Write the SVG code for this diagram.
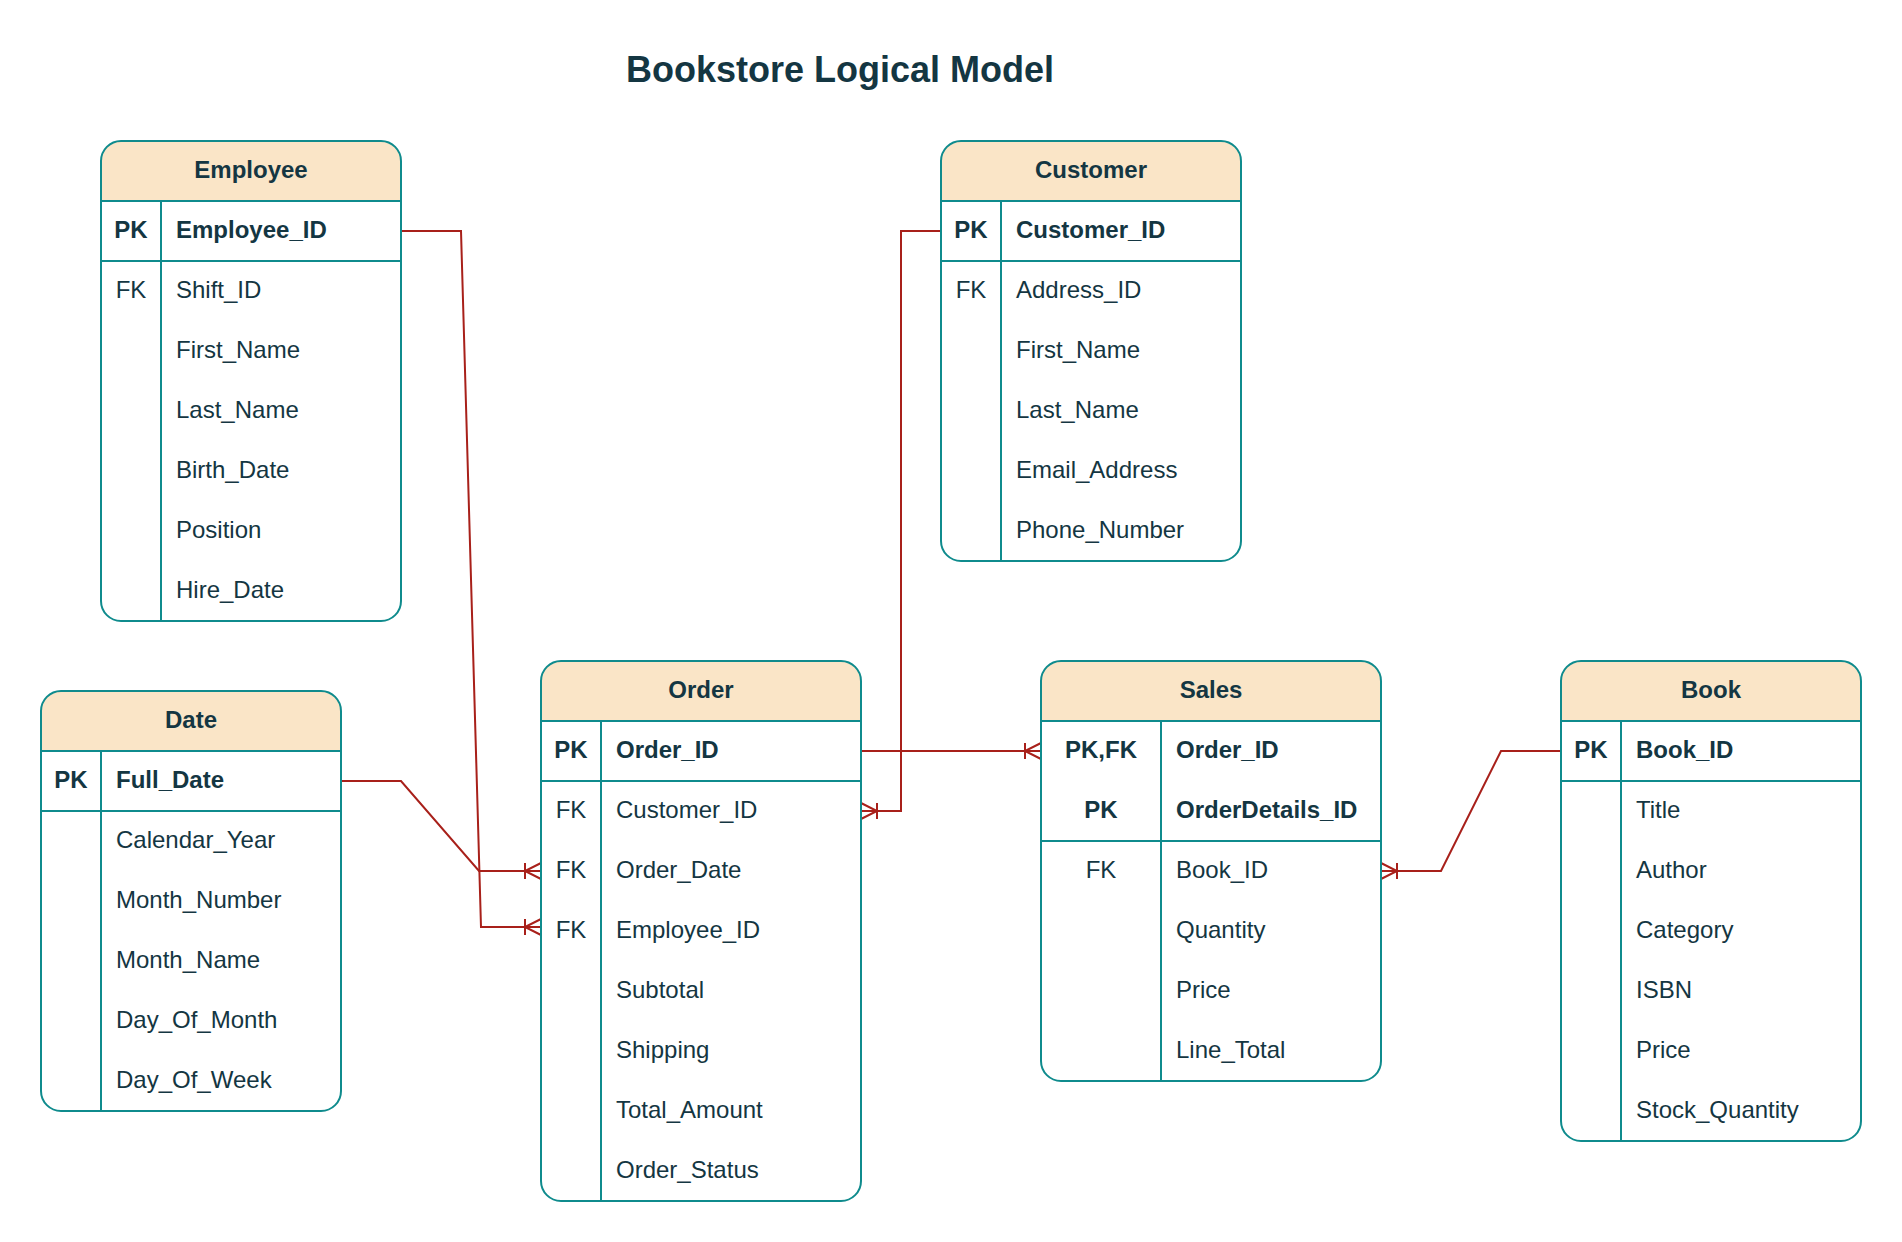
<svg xmlns="http://www.w3.org/2000/svg" width="1902" height="1242" viewBox="0 0 1902 1242">
<style>
text{font-family:"Liberation Sans",Arial,Helvetica,sans-serif;font-size:24px;fill:#143642}
.title{font-size:36px;font-weight:bold}
.b{font-weight:bold}
.c{text-anchor:middle}
.box{fill:none;stroke:#0F8B8D;stroke-width:2}
.hdr{fill:#FAE5C7;stroke:none}
.bg{fill:#FFFFFF;stroke:none}
.sep{stroke:#0F8B8D;stroke-width:2}
.edge{fill:none;stroke:#A8201A;stroke-width:2}
</style>
<defs>
<marker id="many" viewBox="-20 -10 22 20" refX="0" refY="0" markerWidth="22" markerHeight="20" markerUnits="userSpaceOnUse" orient="auto" overflow="visible">
<path d="M0,-8 L-16,0 L0,8 M-16,-8 V8" fill="none" stroke="#A8201A" stroke-width="2"/>
</marker>
</defs>
<rect width="1902" height="1242" fill="#FFFFFF"/>
<text class="title c" x="840" y="82">Bookstore Logical Model</text>

<g id="connectors">
<path class="edge" d="M401,231 H461 L481,927 H541" marker-end="url(#many)"/>
<path class="edge" d="M341,781 H401 L479,871 H541" marker-end="url(#many)"/>
<path class="edge" d="M941,231 H901 V811 H861" marker-end="url(#many)"/>
<path class="edge" d="M861,751 H1041" marker-end="url(#many)"/>
<path class="edge" d="M1561,751 H1501 L1441,871 H1381" marker-end="url(#many)"/>
</g>

<g id="employee">
<rect class="bg" x="101" y="141" width="300" height="480" rx="20"/>
<path class="hdr" d="M101,201 V161 A20,20 0 0 1 121,141 H381 A20,20 0 0 1 401,161 V201 Z"/>
<rect class="box" x="101" y="141" width="300" height="480" rx="20"/>
<line class="sep" x1="101" y1="201" x2="401" y2="201"/>
<line class="sep" x1="101" y1="261" x2="401" y2="261"/>
<line class="sep" x1="161" y1="201" x2="161" y2="621"/>
<text class="b c" x="251" y="178">Employee</text>
<text class="b c" x="131" y="238">PK</text>
<text class="b" x="176" y="238">Employee_ID</text>
<text class="c" x="131" y="298">FK</text>
<text x="176" y="298">Shift_ID</text>
<text x="176" y="358">First_Name</text>
<text x="176" y="418">Last_Name</text>
<text x="176" y="478">Birth_Date</text>
<text x="176" y="538">Position</text>
<text x="176" y="598">Hire_Date</text>
</g>

<g id="customer">
<rect class="bg" x="941" y="141" width="300" height="420" rx="20"/>
<path class="hdr" d="M941,201 V161 A20,20 0 0 1 961,141 H1221 A20,20 0 0 1 1241,161 V201 Z"/>
<rect class="box" x="941" y="141" width="300" height="420" rx="20"/>
<line class="sep" x1="941" y1="201" x2="1241" y2="201"/>
<line class="sep" x1="941" y1="261" x2="1241" y2="261"/>
<line class="sep" x1="1001" y1="201" x2="1001" y2="561"/>
<text class="b c" x="1091" y="178">Customer</text>
<text class="b c" x="971" y="238">PK</text>
<text class="b" x="1016" y="238">Customer_ID</text>
<text class="c" x="971" y="298">FK</text>
<text x="1016" y="298">Address_ID</text>
<text x="1016" y="358">First_Name</text>
<text x="1016" y="418">Last_Name</text>
<text x="1016" y="478">Email_Address</text>
<text x="1016" y="538">Phone_Number</text>
</g>

<g id="date">
<rect class="bg" x="41" y="691" width="300" height="420" rx="20"/>
<path class="hdr" d="M41,751 V711 A20,20 0 0 1 61,691 H321 A20,20 0 0 1 341,711 V751 Z"/>
<rect class="box" x="41" y="691" width="300" height="420" rx="20"/>
<line class="sep" x1="41" y1="751" x2="341" y2="751"/>
<line class="sep" x1="41" y1="811" x2="341" y2="811"/>
<line class="sep" x1="101" y1="751" x2="101" y2="1111"/>
<text class="b c" x="191" y="728">Date</text>
<text class="b c" x="71" y="788">PK</text>
<text class="b" x="116" y="788">Full_Date</text>
<text x="116" y="848">Calendar_Year</text>
<text x="116" y="908">Month_Number</text>
<text x="116" y="968">Month_Name</text>
<text x="116" y="1028">Day_Of_Month</text>
<text x="116" y="1088">Day_Of_Week</text>
</g>

<g id="order">
<rect class="bg" x="541" y="661" width="320" height="540" rx="20"/>
<path class="hdr" d="M541,721 V681 A20,20 0 0 1 561,661 H841 A20,20 0 0 1 861,681 V721 Z"/>
<rect class="box" x="541" y="661" width="320" height="540" rx="20"/>
<line class="sep" x1="541" y1="721" x2="861" y2="721"/>
<line class="sep" x1="541" y1="781" x2="861" y2="781"/>
<line class="sep" x1="601" y1="721" x2="601" y2="1201"/>
<text class="b c" x="701" y="698">Order</text>
<text class="b c" x="571" y="758">PK</text>
<text class="b" x="616" y="758">Order_ID</text>
<text class="c" x="571" y="818">FK</text>
<text x="616" y="818">Customer_ID</text>
<text class="c" x="571" y="878">FK</text>
<text x="616" y="878">Order_Date</text>
<text class="c" x="571" y="938">FK</text>
<text x="616" y="938">Employee_ID</text>
<text x="616" y="998">Subtotal</text>
<text x="616" y="1058">Shipping</text>
<text x="616" y="1118">Total_Amount</text>
<text x="616" y="1178">Order_Status</text>
</g>

<g id="sales">
<rect class="bg" x="1041" y="661" width="340" height="420" rx="20"/>
<path class="hdr" d="M1041,721 V681 A20,20 0 0 1 1061,661 H1361 A20,20 0 0 1 1381,681 V721 Z"/>
<rect class="box" x="1041" y="661" width="340" height="420" rx="20"/>
<line class="sep" x1="1041" y1="721" x2="1381" y2="721"/>
<line class="sep" x1="1041" y1="841" x2="1381" y2="841"/>
<line class="sep" x1="1161" y1="721" x2="1161" y2="1081"/>
<text class="b c" x="1211" y="698">Sales</text>
<text class="b c" x="1101" y="758">PK,FK</text>
<text class="b" x="1176" y="758">Order_ID</text>
<text class="b c" x="1101" y="818">PK</text>
<text class="b" x="1176" y="818">OrderDetails_ID</text>
<text class="c" x="1101" y="878">FK</text>
<text x="1176" y="878">Book_ID</text>
<text x="1176" y="938">Quantity</text>
<text x="1176" y="998">Price</text>
<text x="1176" y="1058">Line_Total</text>
</g>

<g id="book">
<rect class="bg" x="1561" y="661" width="300" height="480" rx="20"/>
<path class="hdr" d="M1561,721 V681 A20,20 0 0 1 1581,661 H1841 A20,20 0 0 1 1861,681 V721 Z"/>
<rect class="box" x="1561" y="661" width="300" height="480" rx="20"/>
<line class="sep" x1="1561" y1="721" x2="1861" y2="721"/>
<line class="sep" x1="1561" y1="781" x2="1861" y2="781"/>
<line class="sep" x1="1621" y1="721" x2="1621" y2="1141"/>
<text class="b c" x="1711" y="698">Book</text>
<text class="b c" x="1591" y="758">PK</text>
<text class="b" x="1636" y="758">Book_ID</text>
<text x="1636" y="818">Title</text>
<text x="1636" y="878">Author</text>
<text x="1636" y="938">Category</text>
<text x="1636" y="998">ISBN</text>
<text x="1636" y="1058">Price</text>
<text x="1636" y="1118">Stock_Quantity</text>
</g>
</svg>
